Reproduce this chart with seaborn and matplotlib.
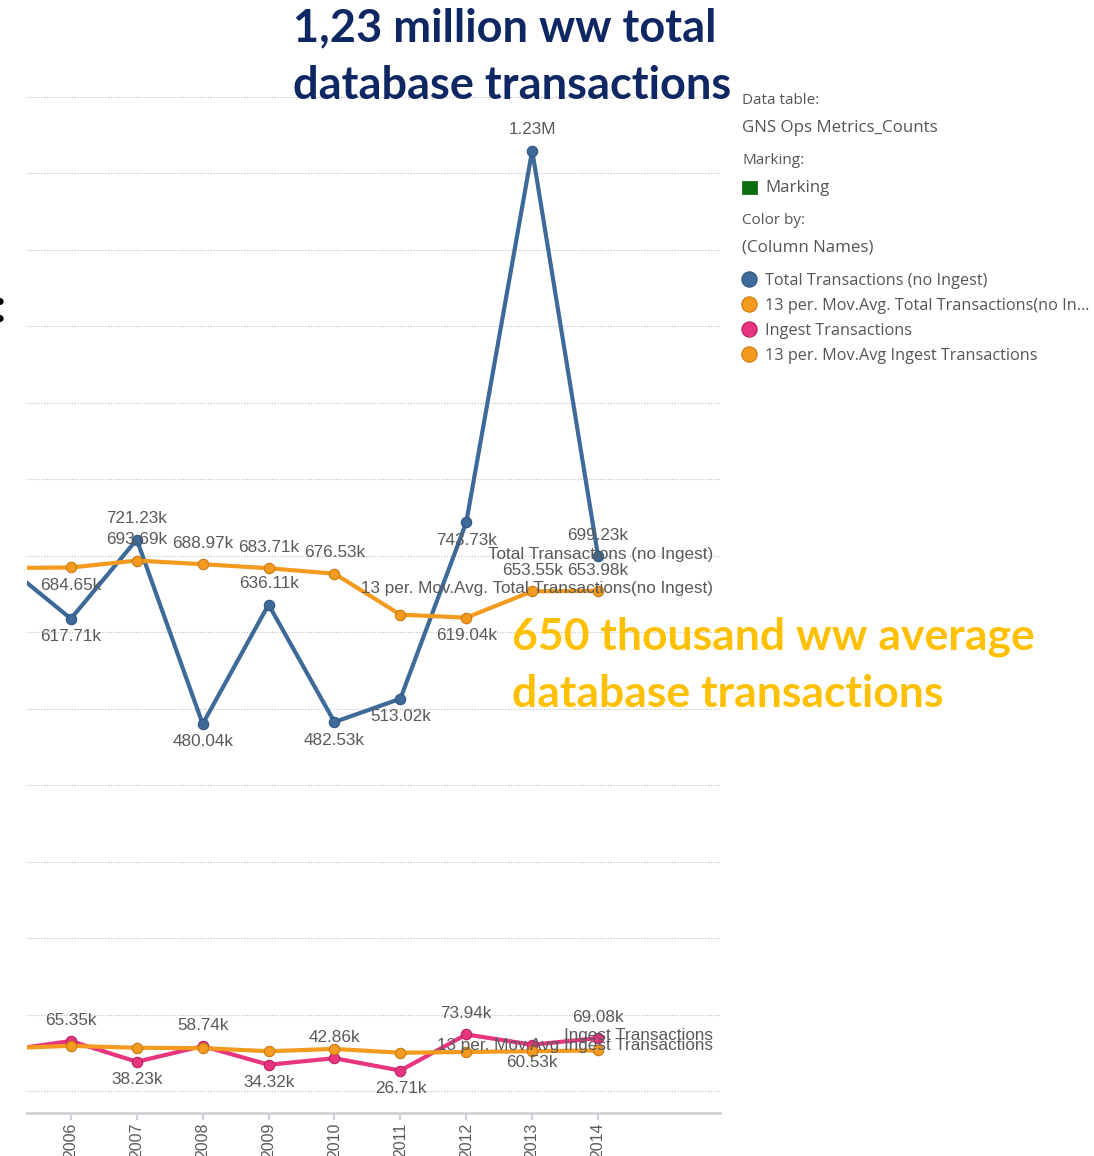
import matplotlib
matplotlib.use("Agg")
import matplotlib.pyplot as plt
from matplotlib.lines import Line2D
from matplotlib.patches import Rectangle
import seaborn as sns
import pandas as pd
import numpy as np

# Datos (en miles de transacciones)
# ==============================================================================
years = [2005, 2006, 2007, 2008, 2009, 2010, 2011, 2012, 2013, 2014]
total_tx = [688.0, 617.71, 721.23, 480.04, 636.11, 482.53, 513.02, 743.73, 1230.0, 699.23]
total_ma = [684.0, 684.65, 693.69, 688.97, 683.71, 676.53, 623.0, 619.04, 653.55, 653.98]
ingest_tx = [53.12, 65.35, 38.23, 58.74, 34.32, 42.86, 26.71, 73.94, 60.53, 69.08]
ingest_ma = [56.0, 59.0, 56.5, 56.0, 52.0, 55.0, 50.0, 51.0, 52.0, 53.0]

series_names = ["Total Transactions (no Ingest)",
                "13 per. Mov.Avg. Total Transactions(no Ingest)",
                "Ingest Transactions",
                "13 per. Mov.Avg Ingest Transactions"]
end_labels = ["Total Transactions (no Ingest)",
              "13 per. Mov.Avg. Total Transactions(no Ingest)",
              "Ingest Transactions",
              "13 per. Mov.Avg Ingest Transactions"]
legend_labels = ["Total Transactions (no Ingest)",
                 "13 per. Mov.Avg. Total Transactions(no In\u2026",
                 "Ingest Transactions",
                 "13 per. Mov.Avg Ingest Transactions"]

# posición de la etiqueta de cada punto: a = arriba, b = abajo, None = oculta
label_pos = [
    ["a", "b", "a", "b", "a", "b", "b", "b", "a", "a"],
    [None, "b", "a", "a", "a", "a", None, "b", "a", "a"],
    ["b", "a", "b", "a", "b", "a", "b", "a", "b", "a"],
    [None] * 10,
]

colors = ["#3d6a98", "#f39a1f", "#e8357f", "#f39a1f"]
edge_colors = ["#2f5680", "#c97a10", "#b8245f", "#c97a10"]

df = pd.DataFrame({
    "year": years * 4,
    "value": total_tx + total_ma + ingest_tx + ingest_ma,
    "series": np.repeat(series_names, len(years)),
})

sns.set_theme(style="white")
plt.rcParams["font.family"] = ["Liberation Sans", "DejaVu Sans"]

W, H = 1094, 1156
fig = plt.figure(figsize=(W / 100, H / 100), dpi=100)
ax = fig.add_axes([27 / W, 43 / H, 693 / W, 1028 / H])

# Líneas
# ==============================================================================
for i, name in enumerate(series_names):
    sub = df[df["series"] == name]
    sns.lineplot(data=sub, x="year", y="value", ax=ax, color=colors[i],
                 linewidth=3.0, marker="o", markersize=7.5,
                 markeredgecolor=edge_colors[i], markeredgewidth=0.8,
                 legend=False, zorder=3 + i)

# Etiquetas de valores
# ==============================================================================
def fmt(v):
    if v >= 1000:
        return f"{v / 1000:.2f}M".replace("0M", "M")
    return f"{v:.2f}k"

for i, name in enumerate(series_names):
    vals = df[df["series"] == name]["value"].values
    for yr, v, pos in zip(years, vals, label_pos[i]):
        if pos is None:
            continue
        dy = 15 if pos == "a" else -13
        t = ax.annotate(fmt(v), (yr, v), xytext=(0, dy), textcoords="offset points",
                        ha="center", va="center", fontsize=12.3, color="#595959",
                        zorder=10)
        t.set_clip_on(True)

# Nombres de las series al final de cada línea
end_vals = [total_tx[-1], total_ma[-1], ingest_tx[-1], ingest_ma[-1]]
end_dy = [1.5, 1.5, 2, 3.5]
for i, lab in enumerate(end_labels):
    ax.annotate(lab, (1, end_vals[i]), xycoords=("axes fraction", "data"),
                xytext=(-5, end_dy[i]), textcoords="offset points",
                ha="right", va="center", fontsize=12.3, color="#595959", zorder=11)

# Ejes
# ==============================================================================
ax.set_xlim(2005.334, 2015.85)
ax.set_ylim(-28.8, 1315.7)
ax.set_yticks(np.arange(0, 1301, 100))
ax.set_yticklabels([])
ax.set_xticks(years[1:])
ax.set_xticklabels([str(y) for y in years[1:]], rotation=90, fontsize=11.5, color="#595959")
ax.tick_params(axis="x", length=5, width=1.5, color="#d0d0d6", pad=2, bottom=True)
ax.tick_params(axis="y", length=0)
ax.grid(axis="y", linestyle=(0, (1, 1.5)), color="#bdbdbd", linewidth=0.8)
ax.grid(axis="x", visible=False)
for s in ["top", "right", "left"]:
    ax.spines[s].set_visible(False)
ax.spines["bottom"].set_color("#d0d0d6")
ax.spines["bottom"].set_linewidth(2)
ax.set_xlabel("")
ax.set_ylabel("")

# Leyenda (panel derecho)
# ==============================================================================
lx = 742 / W
leg_font = ["Open Sans", "DejaVu Sans"]
fig.text(lx, 1 - 101 / H, "Data table:", fontsize=11, color="#555555", va="center", family=leg_font)
fig.text(lx, 1 - 128 / H, "GNS Ops Metrics_Counts", fontsize=12.2, color="#555555", va="center", family=leg_font)
fig.text(lx, 1 - 161 / H, "Marking:", fontsize=11, color="#555555", va="center", family=leg_font)
fig.add_artist(Rectangle((742 / W, 1 - 194 / H), 15 / W, 13 / H, transform=fig.transFigure,
                         facecolor="#0b6e11", edgecolor="#0b5e0e", lw=0.5))
fig.text(765 / W, 1 - 188 / H, "Marking", fontsize=12.2, color="#555555", va="center", family=leg_font)
fig.text(lx, 1 - 221 / H, "Color by:", fontsize=11, color="#555555", va="center", family=leg_font)
fig.text(lx, 1 - 248 / H, "(Column Names)", fontsize=12.2, color="#555555", va="center", family=leg_font)

handles = [Line2D([], [], linestyle="", marker="o", markersize=11,
                  markerfacecolor=colors[i], markeredgecolor=edge_colors[i], markeredgewidth=0.8)
           for i in range(4)]
fig.legend(handles, legend_labels, loc="upper left", bbox_to_anchor=(741 / W, 1 - 273 / H),
           frameon=False, handlelength=1.0, handletextpad=0.45, labelspacing=0.55,
           borderaxespad=0, borderpad=0,
           prop={"family": leg_font, "size": 11.7}, labelcolor="#555555")

# Anotaciones
# ==============================================================================
ann_font = ["Lato", "DejaVu Sans"]
fig.text(505 / W, 1 - 28 / H, "1,23 million ww total", ha="center", va="center",
         fontsize=32.5, fontweight="bold", color="#0f2763", family=ann_font)
fig.text(512 / W, 1 - 86 / H, "database transactions", ha="center", va="center",
         fontsize=32.5, fontweight="bold", color="#0f2763", family=ann_font)
fig.text(512 / W, 1 - 637 / H, "650 thousand ww average", ha="left", va="center",
         fontsize=32, fontweight="bold", color="#ffc000", family=ann_font)
fig.text(512 / W, 1 - 694 / H, "database transactions", ha="left", va="center",
         fontsize=32, fontweight="bold", color="#ffc000", family=ann_font)
fig.text(0, 1 - 308 / H, ":", ha="center", va="center", fontsize=34,
         fontweight="bold", color="black", family=ann_font)

fig.savefig("out.png", dpi=100)
